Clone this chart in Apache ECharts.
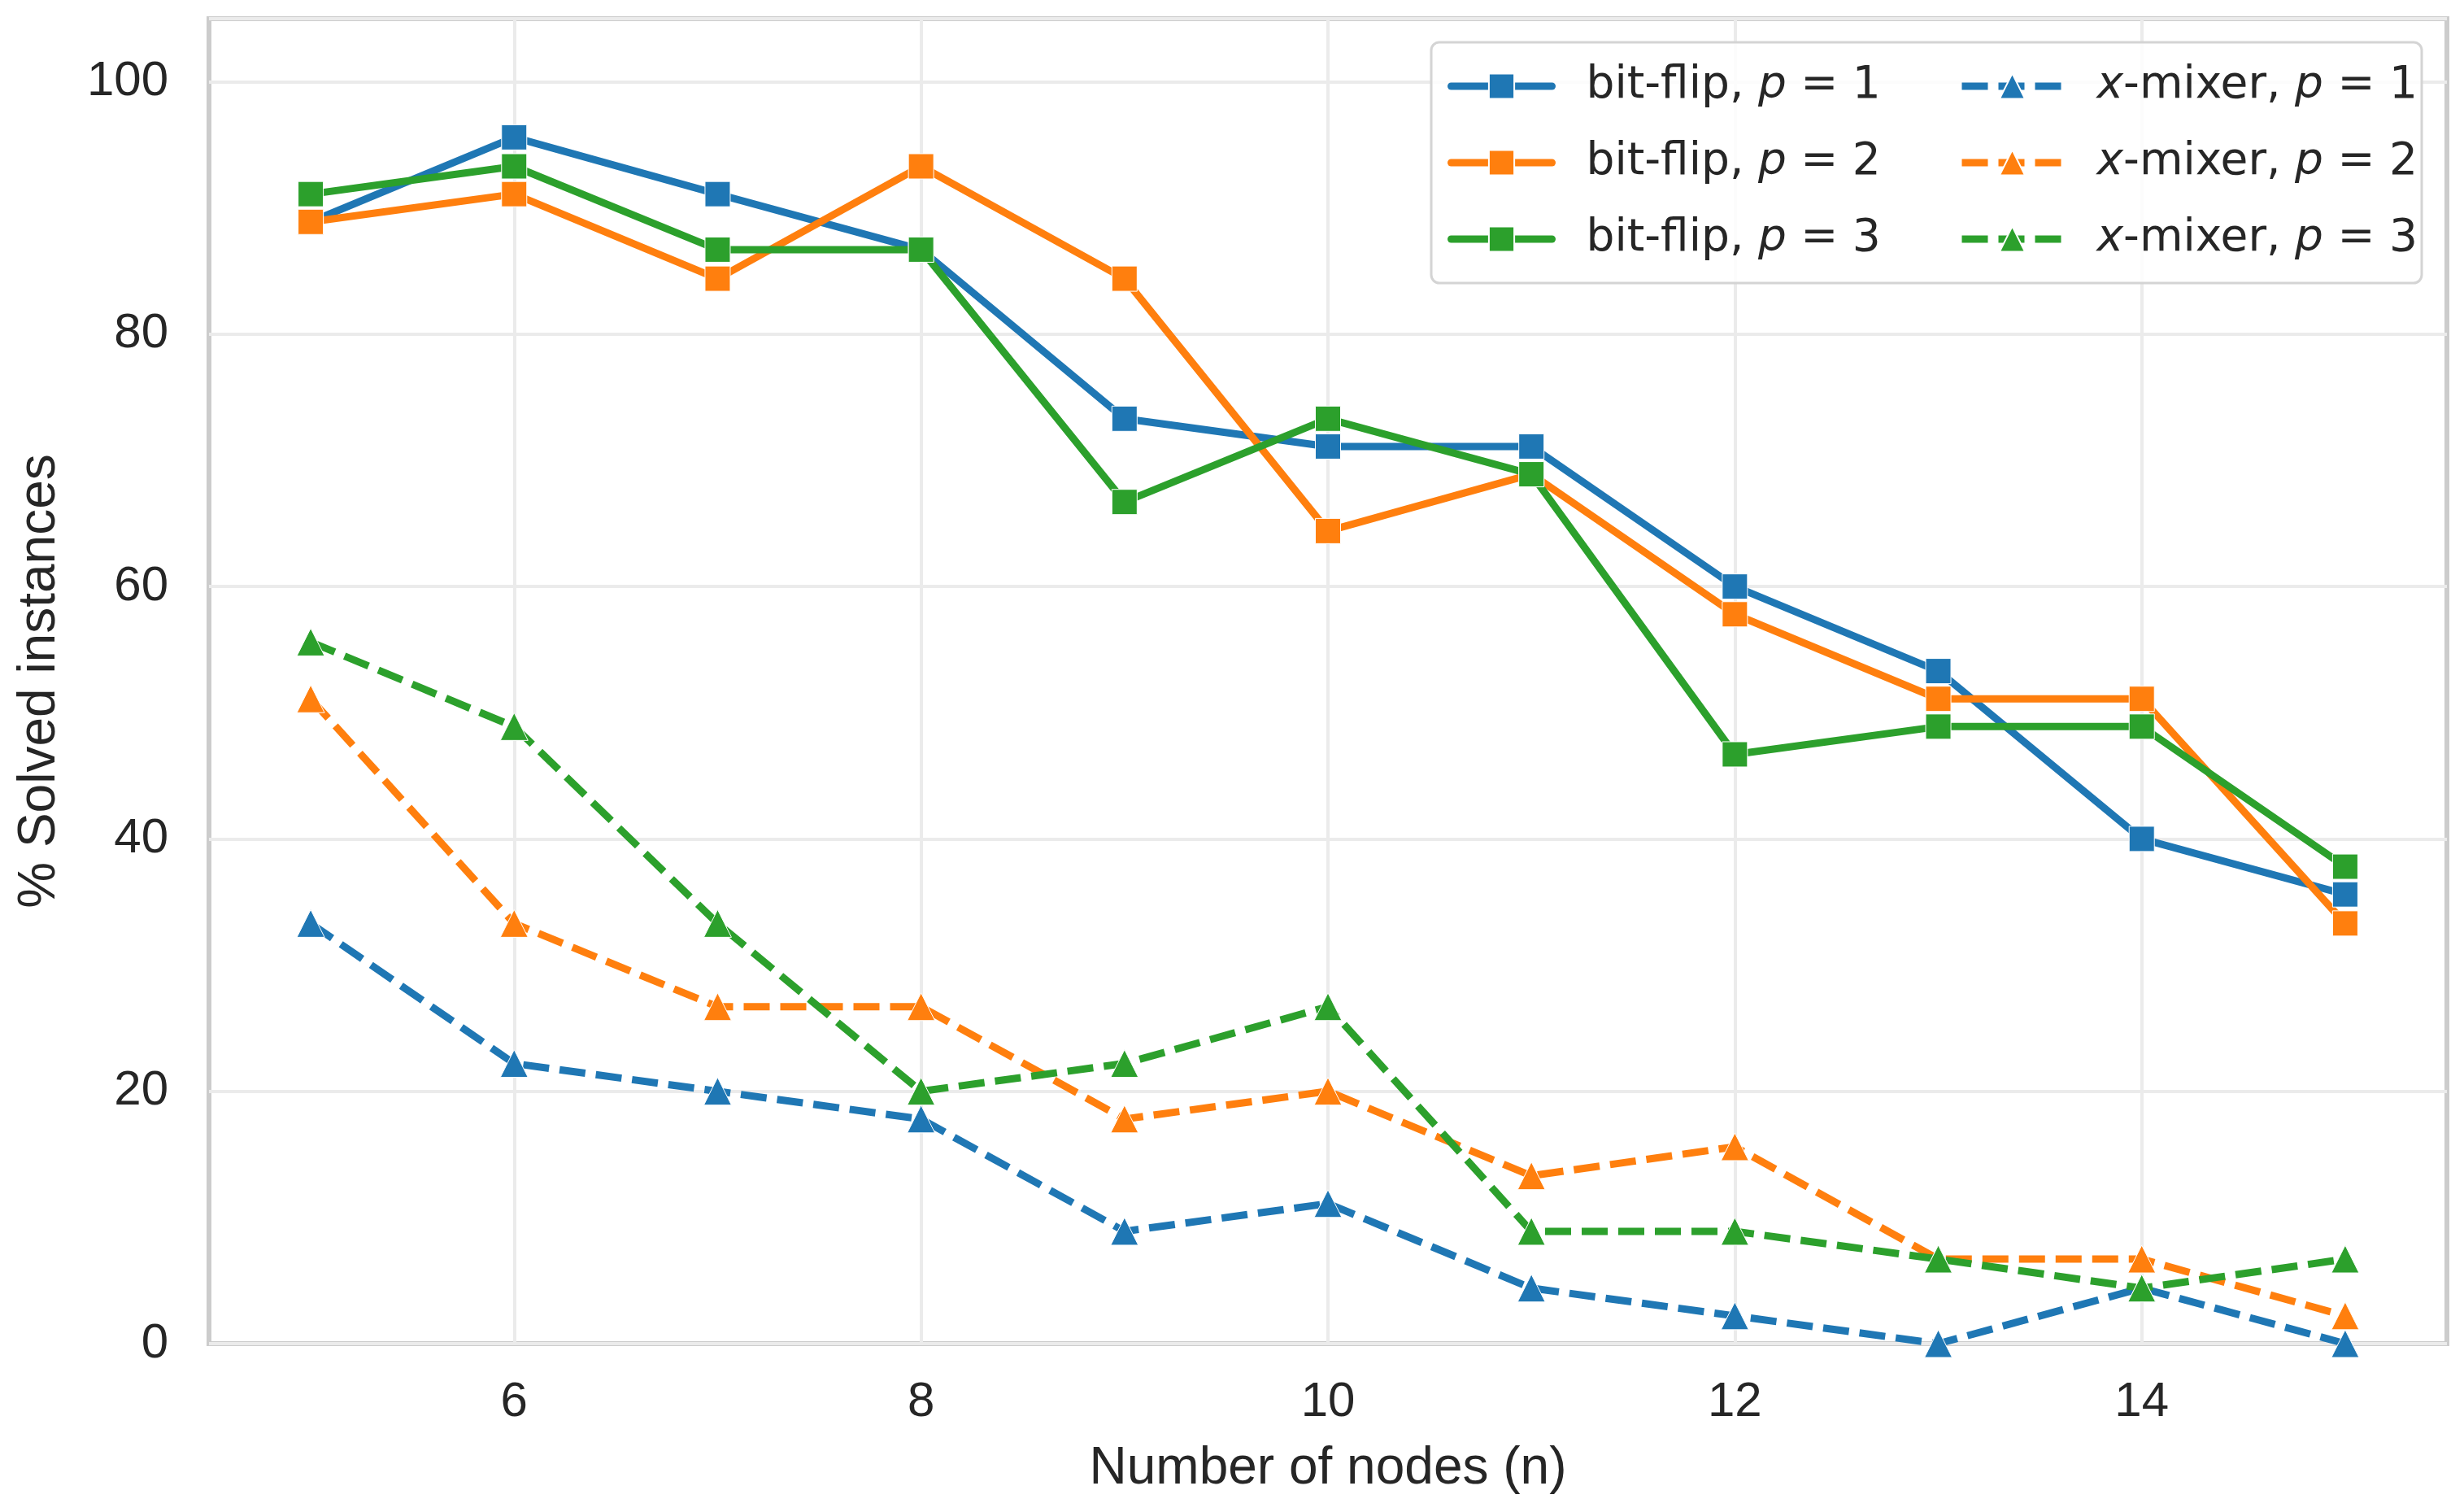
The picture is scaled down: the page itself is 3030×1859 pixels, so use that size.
<!DOCTYPE html>
<html>
<head>
<meta charset="utf-8">
<script src="https://cdn.jsdelivr.net/npm/echarts@6/dist/echarts.min.js"></script>
<style>
  html, body { margin: 0; padding: 0; background: #fff; }
  #chart { width: 3030px; height: 1859px; }
</style>
</head>
<body>
<div id="chart"></div>
<script>
const nodes = [5, 6, 7, 8, 9, 10, 11, 12, 13, 14, 15]

const bitFlip1 = [88.9, 95.6, 91.1, 86.7, 73.3, 71.1, 71.1, 60.0, 53.3, 40.0, 35.6]
const bitFlip2 = [88.9, 91.1, 84.4, 93.3, 84.4, 64.4, 68.9, 57.8, 51.1, 51.1, 33.3]
const bitFlip3 = [91.1, 93.3, 86.7, 86.7, 66.7, 73.3, 68.9, 46.7, 48.9, 48.9, 37.8]
const xMixer1 = [33.3, 22.2, 20.0, 17.8, 8.9, 11.1, 4.4, 2.2, 0.0, 4.4, 0.0]
const xMixer2 = [51.1, 33.3, 26.7, 26.7, 17.8, 20.0, 13.3, 15.6, 6.7, 6.7, 2.2]
const xMixer3 = [55.6, 48.9, 33.3, 20.0, 22.2, 26.7, 8.9, 8.9, 6.7, 4.4, 6.7]

const xTicks = [6, 8, 10, 12, 14]

const bitFlipNames = ['bit-flip, p = 1', 'bit-flip, p = 2', 'bit-flip, p = 3']
const xMixerNames = ['x-mixer, p = 1', 'x-mixer, p = 2', 'x-mixer, p = 3']

const colors = ['#1f77b4', '#ff7f0e', '#2ca02c']
const textColor = '#262626'

const chart = echarts.init(document.getElementById('chart'))

function pairs(values) {
  return values.map((v, i) => [nodes[i], v])
}

function solidSeries(name, values, color) {
  return {
    name: name,
    type: 'line',
    data: pairs(values),
    symbol: 'rect',
    symbolSize: 31,
    z: 3,
    lineStyle: { color: color, width: 9, cap: 'round', join: 'round' },
    itemStyle: { color: color, borderColor: '#fff', borderWidth: 1 }
  }
}

function dashedSeries(name, values, color) {
  return {
    name: name,
    type: 'line',
    data: pairs(values),
    symbol: 'triangle',
    symbolSize: 34,
    z: 3,
    lineStyle: { color: color, width: 9, type: [32, 13] },
    itemStyle: { color: color, borderColor: '#fff', borderWidth: 1 }
  }
}

const legendText = {
  fontFamily: 'DejaVu Sans',
  fontSize: 55,
  color: textColor,
  lineHeight: 60,
  padding: [0, 0, 0, 37],
  rich: {
    i: { fontFamily: 'DejaVu Sans', fontSize: 55, fontStyle: 'italic', color: textColor },
    x: { fontFamily: 'DejaVu Sans', fontSize: 55, fontStyle: 'italic', color: textColor }
  }
}

function legendFormatter(name) {
  return name.replace(/^x-/, '{x|x}-').replace('p = ', '{i|p} = ')
}

function makeLegend(names, left) {
  return {
    data: names,
    orient: 'vertical',
    left: left,
    top: 76,
    padding: 0,
    itemGap: 34,
    itemWidth: 124,
    itemHeight: 39,
    z: 6,
    lineStyle: { width: 9 },
    formatter: legendFormatter,
    textStyle: legendText
  }
}

const option = {
  animation: false,
  backgroundColor: '#fff',
  grid: {
    left: 257,
    right: 21,
    top: 23,
    bottom: 207,
    show: true,
    borderColor: '#cccccc',
    borderWidth: 6,
    containLabel: false
  },
  xAxis: {
    type: 'value',
    min: 4.5,
    max: 15.5,
    interval: 0.5,
    name: 'Number of nodes (n)',
    nameLocation: 'middle',
    nameGap: 122,
    nameTextStyle: { fontFamily: 'Liberation Sans', fontSize: 64, color: textColor },
    axisLine: { show: false },
    axisTick: { show: false },
    splitLine: { show: false },
    axisLabel: {
      margin: 42,
      fontFamily: 'Liberation Sans',
      fontSize: 60,
      color: textColor,
      formatter: (v) => (xTicks.includes(v) ? String(v) : '')
    }
  },
  yAxis: {
    type: 'value',
    min: 0,
    max: 105,
    interval: 20,
    name: '% Solved instances',
    nameLocation: 'middle',
    nameGap: 176,
    nameTextStyle: { fontFamily: 'Liberation Sans', fontSize: 64, color: textColor },
    axisLine: { show: false },
    axisTick: { show: false },
    axisLabel: {
      margin: 50,
      fontFamily: 'Liberation Sans',
      fontSize: 60,
      color: textColor,
      showMaxLabel: false,
      formatter: (v) => (v % 20 === 0 ? String(v) : '')
    },
    splitLine: { lineStyle: { color: '#ebebeb', width: 4 } }
  },
  legend: [
    makeLegend(bitFlipNames, 1780),
    makeLegend(xMixerNames, 2408)
  ],
  graphic: [
    {
      type: 'rect',
      z: 5,
      silent: true,
      shape: { x: 1760, y: 52, width: 1218, height: 296, r: 10 },
      style: { fill: 'rgba(255,255,255,0.85)', stroke: '#d4d4d4', lineWidth: 3 }
    }
  ],
  series: [
    {
      name: 'grid-x',
      type: 'line',
      data: [],
      z: 1,
      silent: true,
      markLine: {
        z: 1,
        silent: true,
        symbol: 'none',
        label: { show: false },
        lineStyle: { color: '#ebebeb', width: 4, type: 'solid' },
        data: xTicks.map((t) => ({ xAxis: t }))
      }
    },
    solidSeries(bitFlipNames[0], bitFlip1, colors[0]),
    solidSeries(bitFlipNames[1], bitFlip2, colors[1]),
    solidSeries(bitFlipNames[2], bitFlip3, colors[2]),
    dashedSeries(xMixerNames[0], xMixer1, colors[0]),
    dashedSeries(xMixerNames[1], xMixer2, colors[1]),
    dashedSeries(xMixerNames[2], xMixer3, colors[2])
  ]
}

chart.setOption(option)
</script>
</body>
</html>
